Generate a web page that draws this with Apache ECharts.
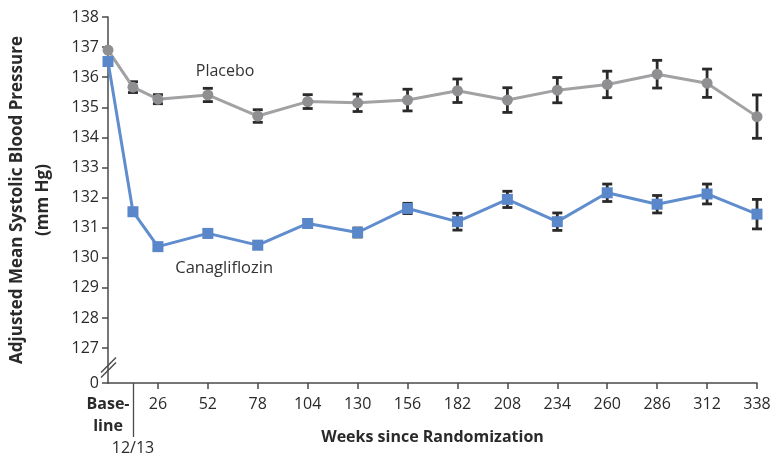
<!DOCTYPE html>
<html>
<head>
<meta charset="utf-8">
<script src="https://cdn.jsdelivr.net/npm/echarts@6/dist/echarts.min.js"></script>
<style>
  html, body { margin: 0; padding: 0; background: #fff; }
  #chart { width: 773px; height: 456px; }
</style>
</head>
<body>
<div id="chart"></div>
<script>
// weeks since randomization (13 = the 12/13-week visit)
const weeks = [0, 13, 26, 52, 78, 104, 130, 156, 182, 208, 234, 260, 286, 312, 338]
const weekTicks = [26, 52, 78, 104, 130, 156, 182, 208, 234, 260, 286, 312, 338]

const placeboMean = [136.90, 135.67, 135.27, 135.41, 134.71, 135.19, 135.15, 135.24, 135.55, 135.24, 135.57, 135.76, 136.10, 135.80, 134.69]
const placeboErr = [0, 0.18, 0.15, 0.22, 0.21, 0.23, 0.29, 0.36, 0.39, 0.41, 0.42, 0.44, 0.46, 0.47, 0.72]
const canaMean = [136.52, 131.53, 130.37, 130.81, 130.42, 131.14, 130.84, 131.64, 131.20, 131.94, 131.20, 132.16, 131.78, 132.12, 131.45]
const canaErr = [0, 0.10, 0.10, 0.12, 0.12, 0.13, 0.15, 0.17, 0.28, 0.27, 0.29, 0.29, 0.29, 0.33, 0.49]

// y axis is broken: bottom of the axis stands for 0
const yBreakMin = 125.84
const yTicks = [127, 128, 129, 130, 131, 132, 133, 134, 135, 136, 137, 138]

const FONT = '"Open Sans", sans-serif'
const INK = '#2b2a2a'

const pairs = (ys) => weeks.map((w, i) => [w, ys[i]])
const bars = (ys, es) => weeks.map((w, i) => [w, ys[i] - es[i], ys[i] + es[i]])

function errorBar(params, api) {
  const x = api.value(0)
  const lo = api.coord([x, api.value(1)])
  const hi = api.coord([x, api.value(2)])
  if (Math.abs(hi[1] - lo[1]) < 1) return null
  const cap = 5
  const style = { stroke: INK, lineWidth: 2.8 }
  return {
    type: 'group',
    children: [
      { type: 'line', shape: { x1: hi[0], y1: hi[1], x2: lo[0], y2: lo[1] }, style },
      { type: 'line', shape: { x1: hi[0] - cap, y1: hi[1], x2: hi[0] + cap, y2: hi[1] }, style },
      { type: 'line', shape: { x1: lo[0] - cap, y1: lo[1], x2: lo[0] + cap, y2: lo[1] }, style },
    ],
  }
}

const chart = echarts.init(document.getElementById('chart'))

chart.setOption({
  animation: false,
  textStyle: { fontFamily: FONT },
  grid: { left: 108, right: 16, top: 17, bottom: 73, outerBoundsMode: 'none', containLabel: false },
  xAxis: [{
    type: 'value',
    min: 0,
    max: 338,
    position: 'bottom',
    name: 'Weeks since Randomization',
    nameLocation: 'middle',
    nameGap: 46,
    nameMoveOverlap: false,
    nameTextStyle: { color: INK, fontSize: 16, fontWeight: 'bold', fontFamily: FONT },
    splitLine: { show: false },
    axisLine: { lineStyle: { color: '#4a4a4a', width: 1.5 } },
    axisTick: { customValues: weekTicks, length: 6, lineStyle: { color: '#4a4a4a', width: 1.5 } },
    axisLabel: {
      customValues: [0].concat(weekTicks),
      margin: 10,
      color: INK,
      fontSize: 16,
      lineHeight: 22,
      formatter: (v) => (v === 0 ? '{b|Base-}\n{b|line}' : String(v)),
      rich: { b: { fontWeight: 'bold', fontSize: 16, lineHeight: 22, color: INK, fontFamily: FONT } },
    },
  }, {
    // the long tick for the 12/13-week visit
    type: 'value',
    min: 0,
    max: 338,
    position: 'bottom',
    splitLine: { show: false },
    axisLine: { show: false },
    axisTick: { customValues: [13], length: 54, lineStyle: { color: '#4a4a4a', width: 1.3 } },
    axisLabel: {
      customValues: [13],
      margin: 57,
      color: INK,
      fontSize: 16,
      formatter: () => '12/13',
    },
  }],
  yAxis: {
    type: 'value',
    min: yBreakMin,
    max: 138,
    name: 'Adjusted Mean Systolic Blood Pressure\n(mm Hg)',
    nameLocation: 'middle',
    nameRotate: 90,
    nameGap: 52,
    nameTextStyle: { color: INK, fontSize: 17, fontWeight: 'bold', lineHeight: 26, fontFamily: FONT },
    splitLine: { show: false },
    axisLine: { show: true, lineStyle: { color: '#4a4a4a', width: 1.5 } },
    axisTick: { show: true, customValues: [yBreakMin].concat(yTicks), length: 6, lineStyle: { color: '#4a4a4a', width: 1.5 } },
    axisLabel: {
      customValues: [yBreakMin].concat(yTicks),
      margin: 9,
      color: INK,
      fontSize: 16,
      formatter: (v) => (v < 127 ? '0' : String(v)),
    },
  },
  series: [
    {
      type: 'custom',
      name: 'placebo error',
      renderItem: errorBar,
      data: bars(placeboMean, placeboErr),
      encode: { x: 0, y: [1, 2] },
      z: 1,
    },
    {
      type: 'custom',
      name: 'cana error',
      renderItem: errorBar,
      data: bars(canaMean, canaErr),
      encode: { x: 0, y: [1, 2] },
      z: 1,
    },
    {
      type: 'line',
      name: 'Placebo',
      data: pairs(placeboMean),
      symbol: 'circle',
      symbolSize: 11,
      lineStyle: { color: '#a2a2a4', width: 3 },
      itemStyle: { color: '#8f8f92' },
      z: 3,
      markPoint: {
        symbol: 'circle',
        symbolSize: 0,
        data: [{ coord: [61, 136.2], value: 'Placebo' }],
        label: { show: true, position: 'inside', color: '#333', fontSize: 16, fontFamily: FONT, formatter: 'Placebo' },
      },
    },
    {
      type: 'line',
      name: 'Canagliflozin',
      data: pairs(canaMean),
      symbol: 'rect',
      symbolSize: 11,
      lineStyle: { color: '#5f8dcd', width: 3 },
      itemStyle: { color: '#5a87c9' },
      z: 4,
      markPoint: {
        symbol: 'circle',
        symbolSize: 0,
        data: [{ coord: [60.5, 129.66], value: 'Canagliflozin' }],
        label: { show: true, position: 'inside', color: '#333', fontSize: 16.5, fontFamily: FONT, formatter: 'Canagliflozin' },
      },
    },
  ],
})

// axis-break slashes on the y axis, between 0 and 127
const p0 = chart.convertToPixel({ gridIndex: 0 }, [0, yBreakMin])
const p1 = chart.convertToPixel({ gridIndex: 0 }, [0, 127])
const mid = (p0[1] + p1[1]) / 2 + 3
const ax = p0[0]
chart.setOption({
  graphic: [{
    type: 'group',
    z: 50,
    children: [
      { type: 'rect', shape: { x: ax - 3, y: mid - 6, width: 6, height: 9 }, style: { fill: '#fff' } },
      { type: 'line', shape: { x1: ax - 7, y1: mid + 4, x2: ax + 8, y2: mid - 11 }, style: { stroke: '#4a4a4a', lineWidth: 1.5 } },
      { type: 'line', shape: { x1: ax - 7, y1: mid + 9, x2: ax + 8, y2: mid - 6 }, style: { stroke: '#4a4a4a', lineWidth: 1.5 } },
    ],
  }],
})
</script>
</body>
</html>
